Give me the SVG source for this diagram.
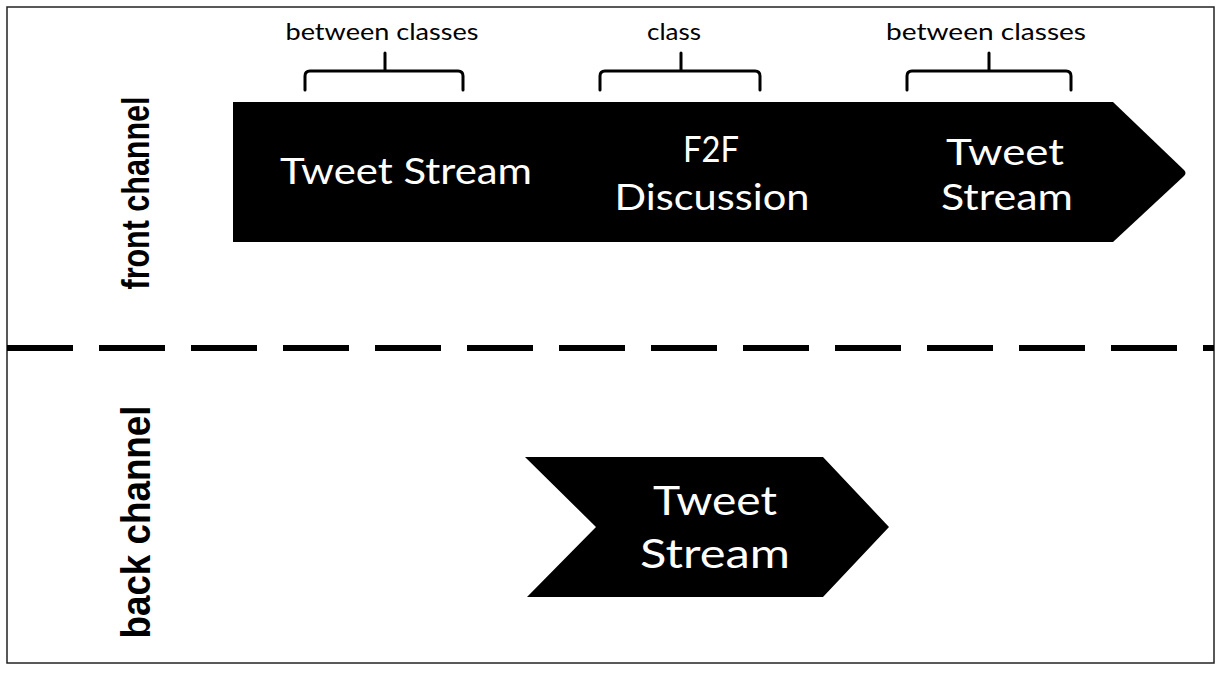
<svg xmlns="http://www.w3.org/2000/svg" width="1218" height="673" viewBox="0 0 1218 673">
<style>
.lbl{font-family:Lato,"Open Sans","Liberation Sans",sans-serif;fill:#000;font-size:24px;text-anchor:middle}
.in{font-family:Lato,"Open Sans","Liberation Sans",sans-serif;fill:#fff;font-size:37px;text-anchor:middle}
.inb{font-family:Lato,"Open Sans","Liberation Sans",sans-serif;fill:#fff;font-size:41px;text-anchor:middle}
.side{font-family:"Liberation Sans",Arial,sans-serif;font-weight:bold;fill:#000;text-anchor:middle}
.brace{fill:none;stroke:#000;stroke-width:3;stroke-linejoin:round;stroke-linecap:round}
.shape{fill:#000}
</style>
<rect x="0" y="0" width="1218" height="673" fill="#fff"/>
<rect x="7" y="7" width="1207" height="656" fill="none" stroke="#222" stroke-width="1.5"/>
<g id="front-label"><text class="side" font-size="38" transform="translate(149,193) rotate(-90)" textLength="193" lengthAdjust="spacingAndGlyphs">front channel</text></g>
<g id="back-label"><text class="side" font-size="40" transform="translate(150,522) rotate(-90)" textLength="233" lengthAdjust="spacingAndGlyphs">back channel</text></g>
<g id="divider"><line x1="7" y1="348" x2="1214" y2="348" stroke="#000" stroke-width="6" stroke-dasharray="66 26"/></g>
<g id="front-arrow">
<path class="shape" d="M233,102 L1113,102 L1184,170 Q1187,173 1184,176 L1113,242 L233,242 Z"/>
<text class="in" x="406" y="184" textLength="252" lengthAdjust="spacingAndGlyphs">Tweet Stream</text>
<text class="in" x="711" y="162" textLength="56" lengthAdjust="spacingAndGlyphs">F2F</text>
<text class="in" x="712" y="210" textLength="195" lengthAdjust="spacingAndGlyphs">Discussion</text>
<text class="in" x="1005" y="165" textLength="118" lengthAdjust="spacingAndGlyphs">Tweet</text>
<text class="in" x="1007" y="210" textLength="132" lengthAdjust="spacingAndGlyphs">Stream</text>
</g>
<g id="back-arrow">
<path class="shape" d="M525,457 L823,457 L889,527 L823,597 L527,597 L596,527 Z"/>
<text class="inb" x="715" y="515" textLength="124" lengthAdjust="spacingAndGlyphs">Tweet</text>
<text class="inb" x="715" y="568" textLength="150" lengthAdjust="spacingAndGlyphs">Stream</text>
</g>
<g id="annotations">
<text class="lbl" x="382" y="40" textLength="193" lengthAdjust="spacingAndGlyphs">between classes</text>
<path class="brace" d="M305,90 L305,76 Q305,71 310,71 L385,71 L385,53 M385,71 L458,71 Q463,71 463,76 L463,90"/>
<text class="lbl" x="674" y="40" textLength="54" lengthAdjust="spacingAndGlyphs">class</text>
<path class="brace" d="M600,90 L600,76 Q600,71 605,71 L681,71 L681,53 M681,71 L755,71 Q760,71 760,76 L760,90"/>
<text class="lbl" x="986" y="40" textLength="200" lengthAdjust="spacingAndGlyphs">between classes</text>
<path class="brace" d="M907,90 L907,76 Q907,71 912,71 L989,71 L989,53 M989,71 L1066,71 Q1071,71 1071,76 L1071,90"/>
</g>
</svg>
